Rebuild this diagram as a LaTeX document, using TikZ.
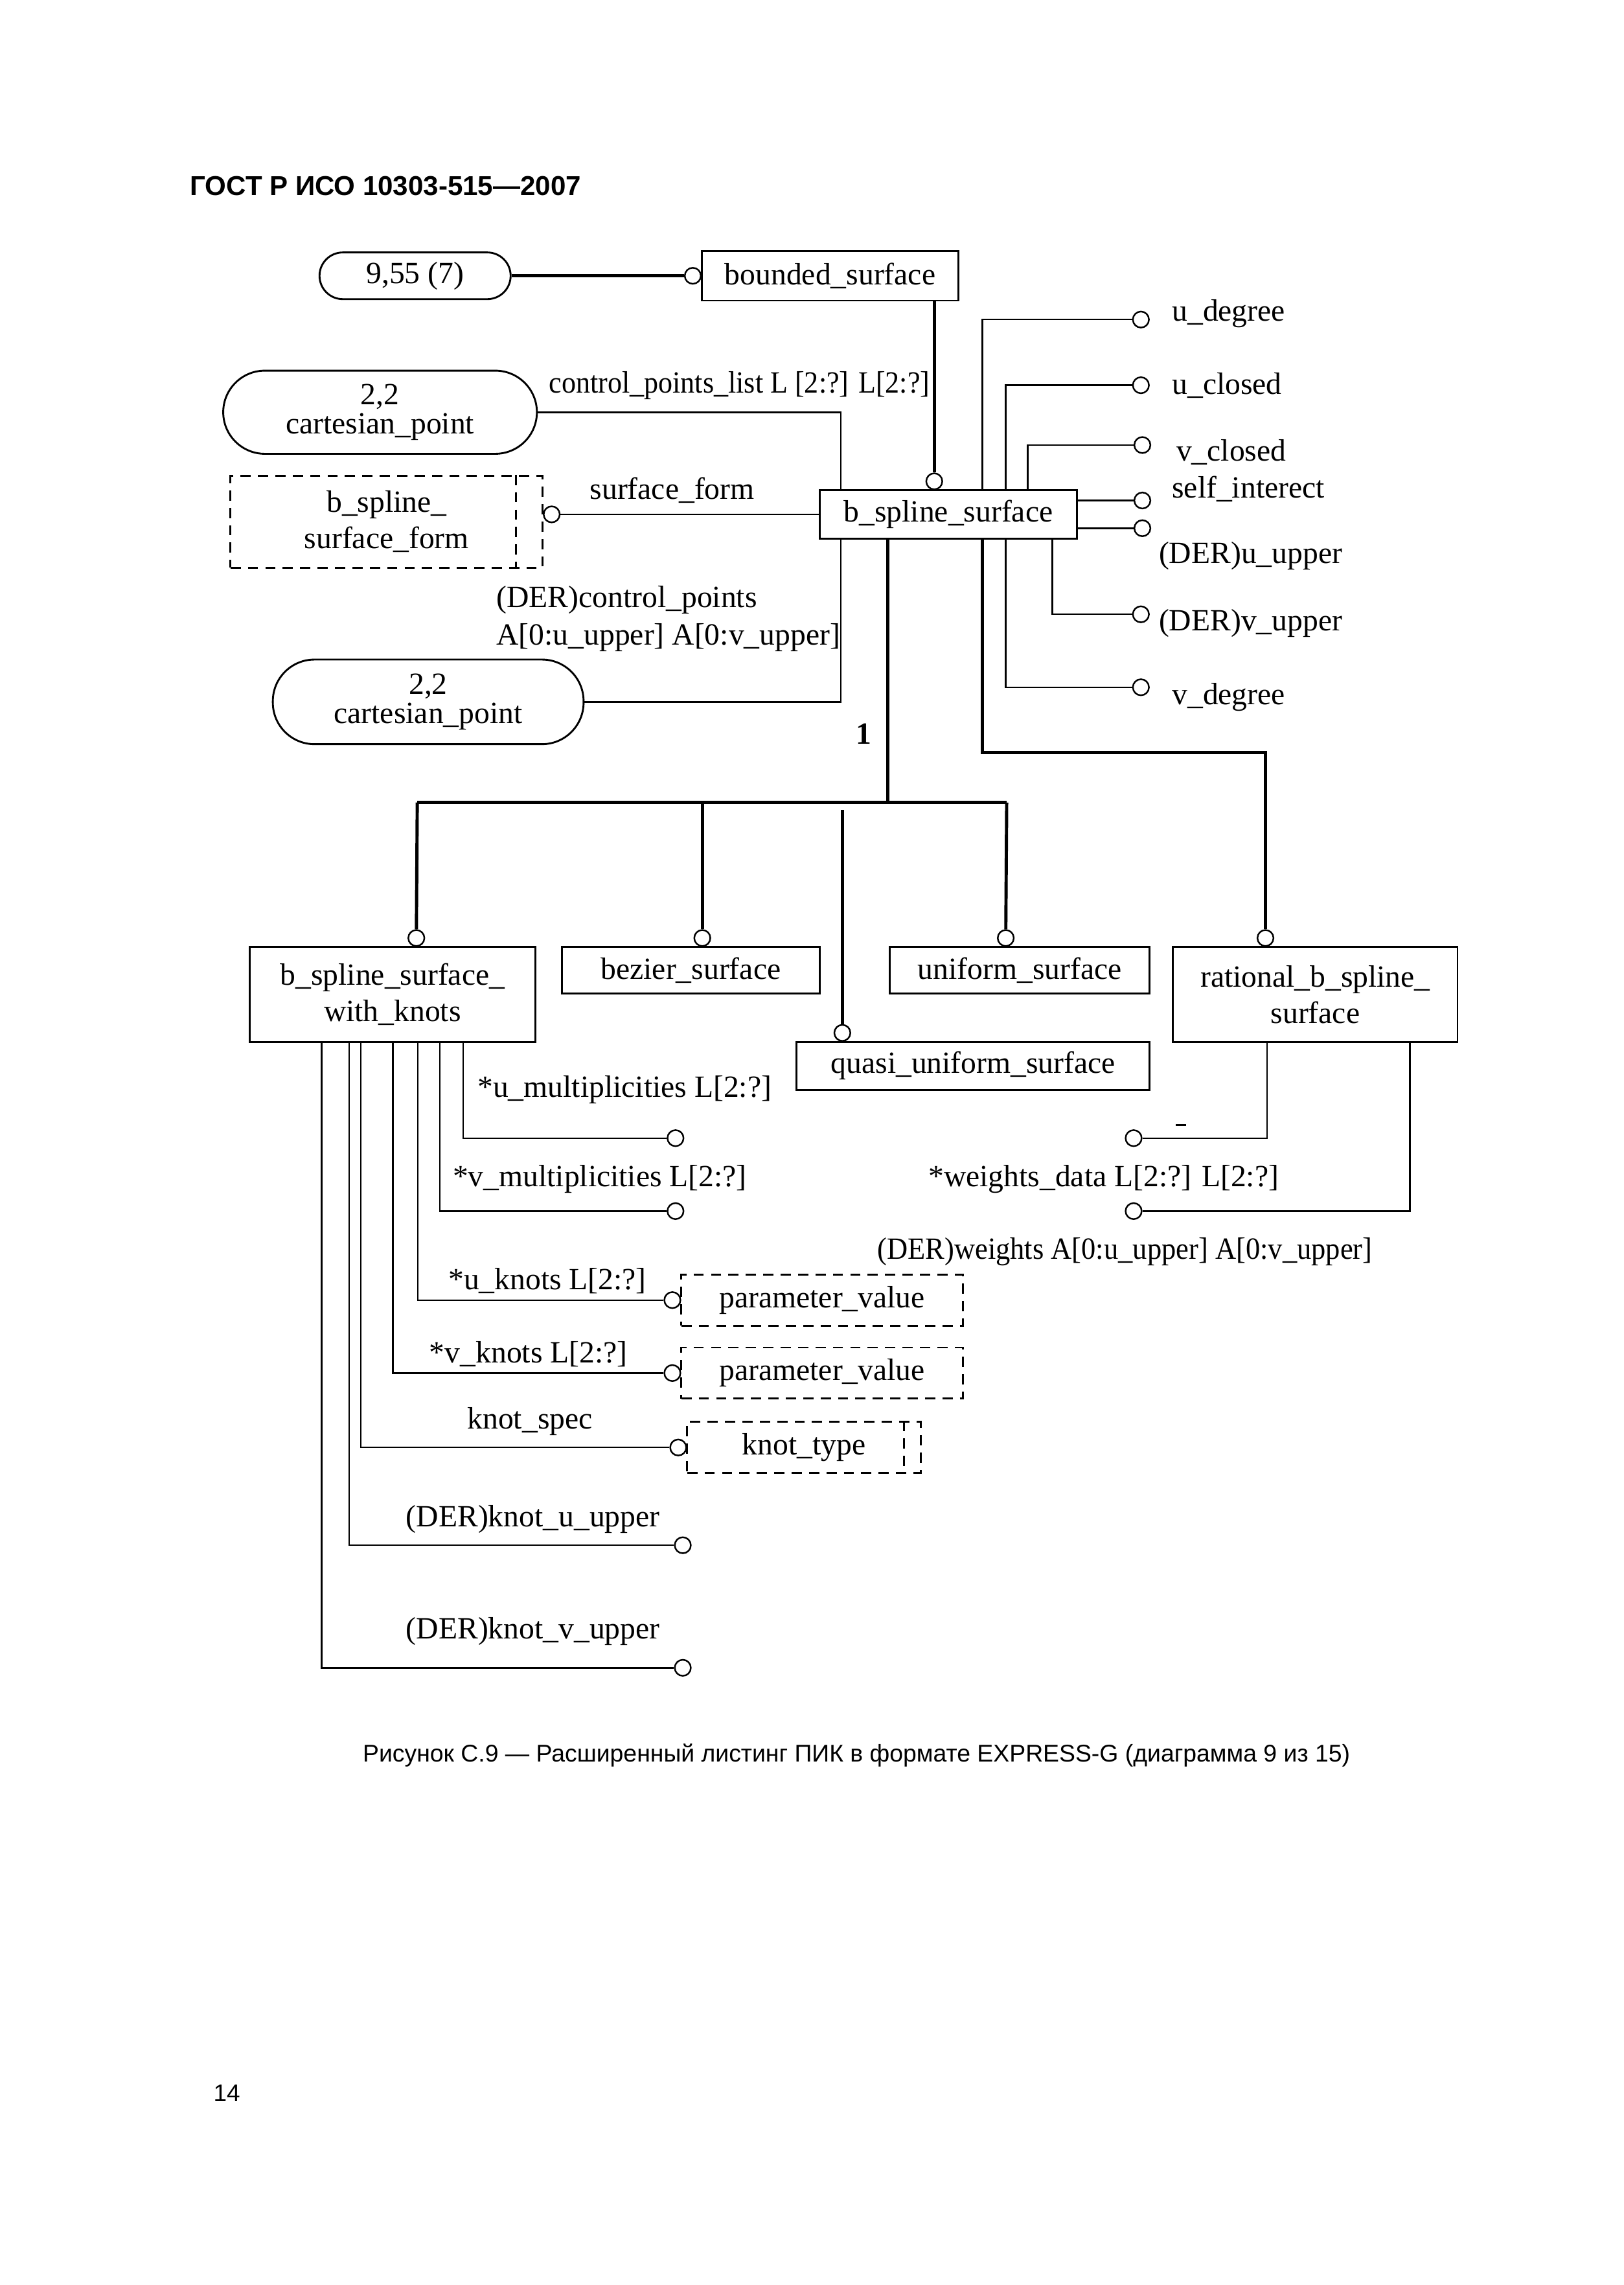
\documentclass[tikz,border=0pt]{standalone}
\usepackage{fontspec}
\setmainfont{Liberation Serif}
\newfontfamily\capfont{Liberation Sans}
\usetikzlibrary{calc}

\newcommand\pxu{0.1928mm}
\newcommand\dia{\fontsize{11.6}{13.7}\selectfont}

\tikzset{
  entity/.style 2 args={draw, line width=0.7pt, inner sep=0pt, align=center, font=\dia,
    minimum width={#1*\pxu}, minimum height={#2*\pxu}},
  typebox/.style 2 args={entity={#1}{#2}, dash pattern=on 1.35mm off 0.95mm},
  refpill/.style n args={3}{entity={#1}{#2}, rounded corners=#3, font=\fontsize{11.6}{11}\selectfont},
  oc/.style={circle, draw, line width=0.6pt, fill=white, minimum size={11*\pxu}, inner sep=0pt},
  attr/.style={line width=0.6pt},
  sub/.style={line width=1.2pt},
  lab/.style={inner sep=0pt, anchor=west, font=\dia}
}

\begin{document}
\begin{tikzpicture}[x=\pxu, y=-\pxu]
\fill[white] (0,0) rectangle (1113,1566);
\useasboundingbox (0,0) rectangle (1113,1566);

\node[anchor=base west, inner sep=0pt, font=\capfont\bfseries\fontsize{10.25}{12}\selectfont] (hdr) at (130,134) {ГОСТ Р ИСО 10303-515—2007};

\node[refpill={131}{32}{3.08mm}] (nPill) at (284.5,189) {9,55 (7)};
\node[entity={176}{34}] (nBnd) at (569,189) {bounded\_surface};
\node[oc] (cBnd) at ($(nBnd.west)+(-5.5,0)$) {};
\draw[sub] (nPill) -- (cBnd);

\node[entity={176}{33}] (nBss) at (650,352.5) {b\_spline\_surface};
\node[oc] (cBss) at ($(nBss.north west)+(79,-5.5)$) {};
\draw[sub] (cBss |- nBnd.south) -- (cBss);

\node[refpill={215}{57}{5.5mm}] (nCp1) at (260.5,282.5) {2,2\\cartesian\_point};
\node[lab] (lCpl) at (376,264) {\resizebox{50.3mm}{\height}{control\_points\_list L [2:?] L[2:?]}};
\draw[attr] (nCp1.east) -| ($(nBss.north west)+(15,0)$);

\node[typebox={214}{63}] (nForm) at (265,357.5) {b\_spline\_\\surface\_form};
\draw[attr, dash pattern=on 1.35mm off 0.95mm] ($(nForm.north east)+(-19,0)$) -- ($(nForm.south east)+(-19,0)$);
\node[oc] (cForm) at ($(nForm.east |- nBss.west)+(5.5,0)$) {};
\draw[attr] (cForm) -- (nBss.west);
\node[lab] (lForm) at (404,336) {surface\_form};

\node[lab, align=left, font=\fontsize{11.6}{14.2}\selectfont] (lDcp) at (340,424) {(DER)control\_points\\A[0:u\_upper] A[0:v\_upper]};
\node[refpill={213}{58}{5.5mm}] (nCp2) at (293.5,481) {2,2\\cartesian\_point};
\draw[attr] (nCp2.east) -| ($(nBss.south west)+(15,0)$);
\node[font=\dia\bfseries, inner sep=0pt] (one) at (592,503) {1};

\node[oc] (cUdeg) at (782,219) {};
\node[oc] (cUcl) at (782,264) {};
\node[oc] (cVcl) at (783,305) {};
\node[oc] (cSelf) at (783,343) {};
\node[oc] (cUup) at (783,362) {};
\node[oc] (cVup) at (782,421) {};
\node[oc] (cVdeg) at (782,471) {};
\draw[attr] ($(nBss.north west)+(112,0)$) |- (cUdeg);
\draw[attr] ($(nBss.north west)+(128,0)$) |- (cUcl);
\draw[attr] ($(nBss.north west)+(143,0)$) |- (cVcl);
\draw[attr] (cSelf -| nBss.east) -- (cSelf);
\draw[attr] (cUup -| nBss.east) -- (cUup);
\draw[attr] ($(nBss.south west)+(160,0)$) |- (cVup);
\draw[attr] ($(nBss.south west)+(128,0)$) |- (cVdeg);
\node[lab] (lUdeg) at (803,215) {u\_degree};
\node[lab] (lUcl) at (803,264) {u\_closed};
\node[lab] (lVcl) at (806,310) {v\_closed};
\node[lab] (lSelf) at (803,335) {self\_interect};
\node[lab] (lUup) at (794,381) {(DER)u\_upper};
\node[lab] (lVup) at (794,427) {(DER)v\_upper};
\node[lab] (lVdeg) at (803,478) {v\_degree};

\coordinate (busL) at (286,550);
\coordinate (busR) at (690,550);
\draw[sub] ($(nBss.south west)+(47,0)$) |- (busL) -- (busR);

\node[entity={196}{65}] (nWk) at (269,681.5) {b\_spline\_surface\_\\with\_knots};
\node[oc] (cWk) at ($(nWk.north west)+(115,-5.5)$) {};
\draw[sub] (busL) -- (cWk);
\node[entity={177}{32}] (nBez) at (473.5,665) {bezier\_surface};
\node[oc] (cBez) at ($(nBez.north west)+(97,-5.5)$) {};
\draw[sub] (cBez |- busL) -- (cBez);
\node[entity={178}{32}] (nUni) at (699,665) {uniform\_surface};
\node[oc] (cUni) at ($(nUni.north west)+(80,-5.5)$) {};
\draw[sub] (busR) -- (cUni);
\node[entity={242}{33}] (nQua) at (667,730.5) {quasi\_uniform\_surface};
\node[oc] (cQua) at ($(nQua.north west)+(32,-5.5)$) {};
\draw[sub] ($(cQua |- busL)+(0,5)$) -- (cQua);
\node[entity={195}{65}] (nRat) at (901.5,681.5) {rational\_b\_spline\_\\surface};
\node[oc] (cRat) at ($(nRat.north west)+(64,-5.5)$) {};
\draw[sub] ($(nBss.south west)+(112,0)$) |- ($(cRat)+(0,-127)$) -- (cRat);

\node[oc] (cWd) at (777,780) {};
\node[oc] (cWt) at (777,830) {};
\draw[attr] ($(nRat.south west)+(65,0)$) |- (cWd);
\draw[attr] ($(nRat.south west)+(163,0)$) |- (cWt);
\draw[attr] (806,771) -- (813,771);
\node[lab] (lWd) at (636,808) {*weights\_data L[2:?] L[2:?]};
\node[lab] (lWt) at (601,858) {\resizebox{65.4mm}{\height}{(DER)weights A[0:u\_upper] A[0:v\_upper]}};

\node[typebox={193}{35}] (nPv1) at (563.5,891) {parameter\_value};
\node[typebox={193}{35}] (nPv2) at (563.5,941) {parameter\_value};
\node[typebox={160}{35}] (nKt) at (551,992) {knot\_type};
\draw[attr, dash pattern=on 1.35mm off 0.95mm] ($(nKt.north east)+(-12,0)$) -- ($(nKt.south east)+(-12,0)$);
\node[oc] (cUm) at (463,780) {};
\node[oc] (cVm) at (463,830) {};
\node[oc] (cUk) at ($(nPv1.west)+(-5.5,0)$) {};
\node[oc] (cVk) at ($(nPv2.west)+(-5.5,0)$) {};
\node[oc] (cKs) at ($(nKt.west)+(-5.5,0)$) {};
\node[oc] (cKu) at (468,1059) {};
\node[oc] (cKv) at (468,1143) {};
\draw[attr] ($(nWk.south west)+(147,0)$) |- (cUm);
\draw[attr] ($(nWk.south west)+(131,0)$) |- (cVm);
\draw[attr] ($(nWk.south west)+(116,0)$) |- (cUk);
\draw[attr] ($(nWk.south west)+(99,0)$) |- (cVk);
\draw[attr] ($(nWk.south west)+(77,0)$) |- (cKs);
\draw[attr] ($(nWk.south west)+(69,0)$) |- (cKu);
\draw[attr] ($(nWk.south west)+(50,0)$) |- (cKv);
\node[lab] (lUm) at (327,747) {*u\_multiplicities L[2:?]};
\node[lab] (lVm) at (310,808) {*v\_multiplicities L[2:?]};
\node[lab] (lUk) at (307,878) {*u\_knots L[2:?]};
\node[lab] (lVk) at (294,928) {*v\_knots L[2:?]};
\node[lab] (lKs) at (320,974) {knot\_spec};
\node[lab] (lKu) at (278,1041) {(DER)knot\_u\_upper};
\node[lab] (lKv) at (278,1118) {(DER)knot\_v\_upper};

\node[inner sep=0pt, font=\capfont\fontsize{9.1}{11}\selectfont] (cap) at (587,1203) {Рисунок С.9 — Расширенный листинг ПИК в формате EXPRESS-G (диаграмма 9 из 15)};
\node[anchor=base west, inner sep=0pt, font=\capfont\fontsize{9}{11}\selectfont] (pg) at (146,1440) {14};
\end{tikzpicture}
\end{document}
